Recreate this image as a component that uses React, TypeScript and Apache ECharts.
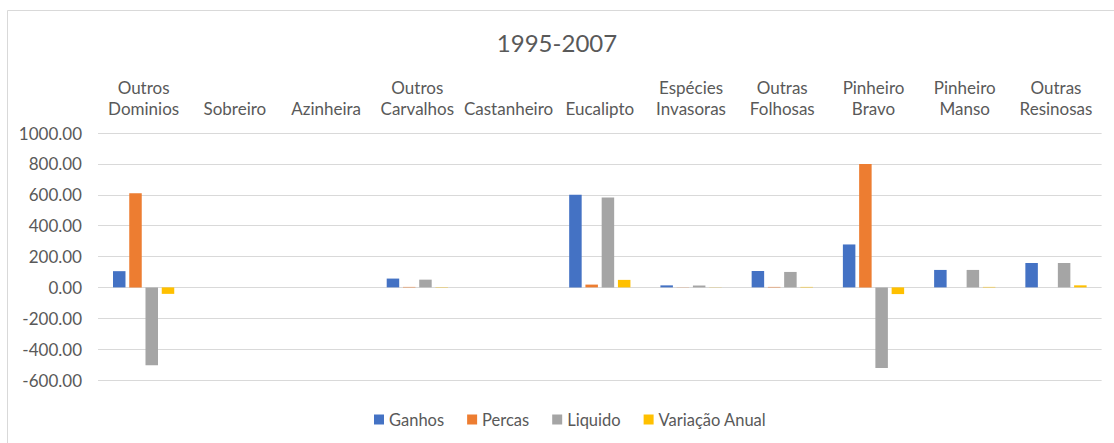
import React, { useEffect, useRef } from "react";
import * as echarts from "echarts";

const categories = [
  "Outros Dominios",
  "Sobreiro",
  "Azinheira",
  "Outros Carvalhos",
  "Castanheiro",
  "Eucalipto",
  "Espécies Invasoras",
  "Outras Folhosas",
  "Pinheiro Bravo",
  "Pinheiro Manso",
  "Outras Resinosas",
];

const ganhos = [105, 0, 0, 57, 0, 600, 13, 106, 278, 113, 158];
const percas = [610, 0, 0, 3, 0, 18, 1, 3, 800, 0, 0];
const liquido = [-505, 0, 0, 50, 0, 582, 12, 100, -522, 113, 158];
const variacaoAnual = [-42.1, 0, 0, 2, 0, 48.5, 1, 3, -43.5, 3, 13.2];

const seriesNames = ["Ganhos", "Percas", "Liquido", "Variação Anual"];
const seriesColors = ["#4472C4", "#ED7D31", "#A5A5A5", "#FFC000"];

const FONT = "Lato";
const TEXT_COLOR = "#595959";

export default function App() {
  const ref = useRef<HTMLDivElement>(null);

  useEffect(() => {
    if (!ref.current) return;
    const chart = echarts.init(ref.current, undefined, { renderer: "svg" });
    const data = [ganhos, percas, liquido, variacaoAnual];
    chart.setOption({
      animation: false,
      backgroundColor: "#FFFFFF",
      textStyle: { fontFamily: FONT },
      title: {
        text: "1995-2007",
        left: "center",
        top: 25,
        padding: [5, 0, 5, 16],
        textStyle: {
          fontFamily: FONT,
          fontSize: 24,
          fontWeight: "normal",
          color: TEXT_COLOR,
        },
      },
      graphic: [
        {
          type: "rect",
          shape: { x: 7.5, y: 10.5, width: 1300, height: 600 },
          style: { fill: "none", stroke: "#D9D9D9", lineWidth: 1 },
          silent: true,
        },
      ],
      legend: {
        data: seriesNames,
        left: 369,
        top: 406,
        itemWidth: 10,
        itemHeight: 10,
        itemGap: 23,
        icon: "rect",
        textStyle: { fontFamily: FONT, fontSize: 16.5, color: TEXT_COLOR },
      },
      grid: { left: 98, right: 12.4, top: 133, bottom: 63, containLabel: false },
      xAxis: {
        type: "category",
        data: categories,
        position: "top",
        axisLine: { show: false },
        axisTick: { show: false },
        axisLabel: {
          interval: 0,
          margin: 14,
          fontFamily: FONT,
          fontSize: 17,
          lineHeight: 21,
          color: TEXT_COLOR,
          formatter: (v: string) => v.replace(" ", "\n"),
        },
      },
      yAxis: {
        type: "value",
        min: -600,
        max: 1000,
        interval: 200,
        axisLine: { show: false },
        axisTick: { show: false },
        splitLine: { lineStyle: { color: "#D9D9D9", width: 1 } },
        axisLabel: {
          margin: 16,
          fontFamily: FONT,
          fontSize: 17,
          color: TEXT_COLOR,
          formatter: (v: number) => v.toFixed(2),
        },
      },
      series: seriesNames.map((name, i) => ({
        name,
        type: "bar",
        data: data[i],
        barWidth: 12.5,
        barGap: "30%",
        itemStyle: { color: seriesColors[i] },
      })),
    });
    return () => chart.dispose();
  }, []);

  return (
    <div
      ref={ref}
      style={{ position: "absolute", left: 0, top: 0, width: 1114, height: 443 }}
    />
  );
}
